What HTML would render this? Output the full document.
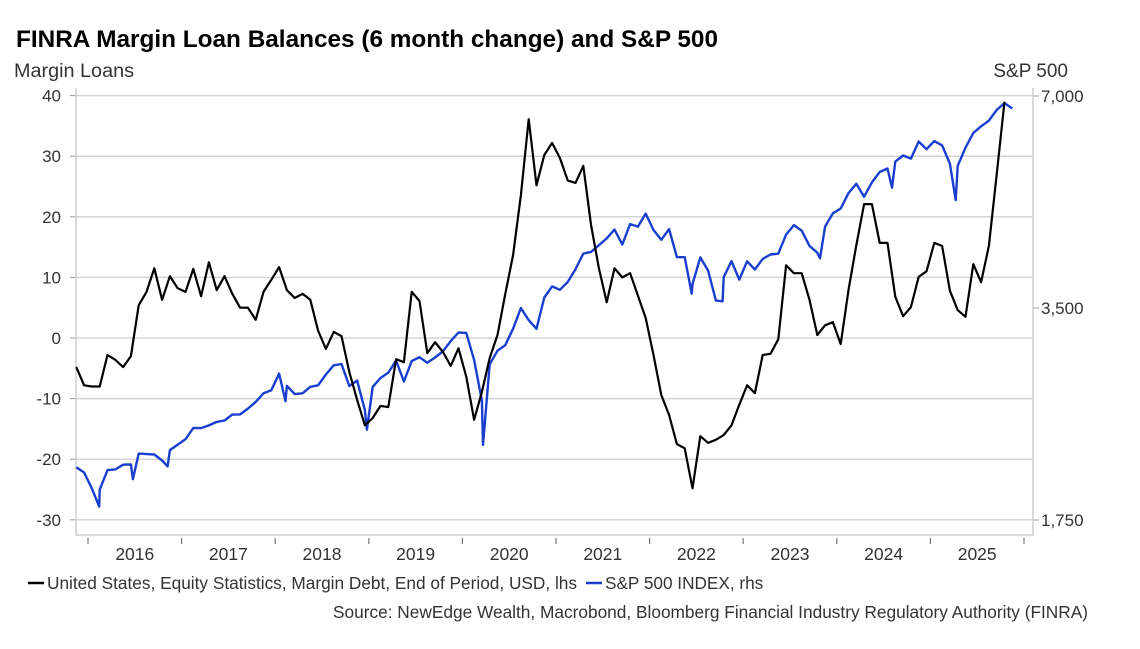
<!DOCTYPE html>
<html><head><meta charset="utf-8"><style>
body{margin:0;background:#fff;}
svg{display:block;font-family:"Liberation Sans",Arial,sans-serif;}
</style></head><body>
<svg id="chart" width="1140" height="649" viewBox="0 0 1140 649" xmlns="http://www.w3.org/2000/svg">
<text x="16" y="47" font-size="24" font-weight="bold" fill="#000" textLength="702" lengthAdjust="spacingAndGlyphs">FINRA Margin Loan Balances (6 month change) and S&amp;P 500</text>
<text x="14" y="77" font-size="19" fill="#333" textLength="120" lengthAdjust="spacingAndGlyphs">Margin Loans</text>
<text x="1068" y="77" font-size="19" fill="#333" text-anchor="end">S&amp;P 500</text>
<g id="grid"></g><g id="axes"></g><g id="series"></g>
<g>
<line x1="28" y1="583" x2="44" y2="583" stroke="#000" stroke-width="2.5"/>
<text x="47" y="589" font-size="17.2" fill="#333" textLength="530" lengthAdjust="spacingAndGlyphs">United States, Equity Statistics, Margin Debt, End of Period, USD, lhs</text>
<line x1="586" y1="583" x2="602" y2="583" stroke="#1a3fcf" stroke-width="2.5"/>
<text x="605" y="589" font-size="17.2" fill="#333">S&amp;P 500 INDEX, rhs</text>
</g>
<text x="1088" y="618" font-size="17.2" fill="#333" text-anchor="end" textLength="755" lengthAdjust="spacingAndGlyphs">Source: NewEdge Wealth, Macrobond, Bloomberg Financial Industry Regulatory Authority (FINRA)</text>
</svg>
<script>
const years=[2016,2017,2018,2019,2020,2021,2022,2023,2024,2025];
const leftTicks=[40,30,20,10,0,-10,-20,-30];
const rightTicks=[7000,3500,1750];
const rightTickLabels=["7,000","3,500","1,750"];
const marginStart=2015+10/12;
const marginValues=[-4.8,-7.8,-8,-8,-2.8,-3.6,-4.8,-3,5.4,7.6,11.5,6.3,10.2,8.2,7.6,11.4,6.9,12.5,7.9,10.2,7.3,5,5,3,7.6,9.6,11.7,7.9,6.6,7.3,6.3,1.2,-1.8,1,0.3,-5.6,-10.2,-14.4,-13.2,-11.2,-11.4,-3.5,-4,7.6,6.1,-2.5,-0.7,-2.3,-4.6,-1.7,-6.4,-13.5,-8.9,-3.3,0.5,7.3,13.7,23.6,36.1,25.2,30.2,32.2,29.7,26,25.6,28.4,18.6,11.5,5.9,11.5,10,10.7,7,3.3,-2.8,-9.4,-12.7,-17.5,-18.2,-24.8,-16.2,-17.3,-16.8,-16,-14.4,-11,-7.8,-9.1,-2.8,-2.6,-0.2,12,10.7,10.7,6.3,0.5,2.1,2.6,-1,7.9,15.3,22.1,22.1,15.7,15.7,6.8,3.6,5.1,10.1,11,15.7,15.2,7.8,4.6,3.5,12.2,9.2,15.2,27,39];
const spxStart=2015+10/12;
const spxMonthly=[2080,2044,1940,1932,2060,2065,2097,2099,2174,2171,2168,2126,2199,2239,
2279,2364,2363,2384,2412,2423,2470,2472,2519,2575,2648,2674,
2824,2714,2641,2648,2705,2718,2816,2902,2914,2712,2760,2507,
2704,2784,2834,2946,2752,2942,2980,2926,2977,3038,3141,3231,
3226,2954,2585,2912,3044,3100,3271,3500,3363,3270,3622,3756,
3714,3811,3973,4181,4204,4298,4395,4523,4308,4605,4567,4766,
4516,4374,4530,4132,4132,3785,4130,3955,3586,3872,4080,3840,
4077,3970,4109,4169,4180,4450,4589,4508,4288,4194,4568,4770,
4846,5096,5254,5036,5278,5460,5522,5648,5762,5705,6032,5882,
6041,5955,5612,5569,5912,6205,6339,6460,6688,6840,6720];
const spxDipDates=[2016.12,2016.48,2016.85,2018.11,2018.98,2020.22,2022.45,2022.78,2023.82,2024.59,2025.27];
const spxDipValues=[1829,2000,2085,2581,2351,2237,3667,3577,4117,5186,4983];

const NS="http://www.w3.org/2000/svg";
const X0=88,YW=93.6,PL=76,PR=1033,PB=535;
const x=t=>X0+YW*(t-2016);
const yL=v=>338-6.06*v;
const yR=v=>96+212*Math.log2(7000/v);
function mk(tag,attrs,parent){const e=document.createElementNS(NS,tag);for(const k in attrs)e.setAttribute(k,attrs[k]);parent.appendChild(e);return e;}
const grid=document.getElementById('grid'),axes=document.getElementById('axes'),series=document.getElementById('series');
leftTicks.forEach(v=>{
  const g=mk('line',{x1:PL,x2:PR,y1:yL(v),y2:yL(v),stroke:'#d4d4d4','stroke-width':1.5},grid);
  
  
  mk('line',{x1:PL-6,x2:PL,y1:yL(v),y2:yL(v),stroke:'#999','stroke-width':1},axes);
  const t=mk('text',{x:61,y:yL(v)+6,'font-size':17,fill:'#333','text-anchor':'end'},axes);
  t.textContent=v;
  
  
});
rightTicks.forEach((v,i)=>{
  mk('line',{x1:PR,x2:PR+6,y1:yR(v),y2:yR(v),stroke:'#999','stroke-width':1},axes);
  const t=mk('text',{x:1041,y:yR(v)+6,'font-size':17,fill:'#333'},axes);
  t.textContent=rightTickLabels[i];
  
  
});
mk('path',{d:`M${PL} 88V${PB}H${PR}V88`,fill:'none',stroke:'#cfcfcf','stroke-width':1.5},axes);
years.concat([2026]).forEach(yr=>{mk('line',{x1:x(yr),x2:x(yr),y1:PB+3,y2:PB+9,stroke:'#777','stroke-width':1.2},axes);});
years.forEach(yr=>{
  const t=mk('text',{x:x(yr+0.5),y:560,'font-size':17.5,fill:'#333','text-anchor':'middle'},axes);
  t.textContent=yr;
  
  
});
let pts=spxMonthly.map((v,i)=>[spxStart+(i+0.5)/12,v]);
spxDipDates.forEach((d,i)=>pts.push([d,spxDipValues[i]]));
pts.sort((a,b)=>a[0]-b[0]);
const sp=mk('path',{d:'M'+pts.map(p=>x(p[0]).toFixed(1)+','+yR(p[1]).toFixed(1)).join('L'),fill:'none',stroke:'#1a3fcf','stroke-width':2.4,'stroke-linejoin':'round'},series);


const ml=mk('path',{d:'M'+marginValues.map((v,i)=>x(marginStart+(i+0.5)/12).toFixed(1)+','+yL(v).toFixed(1)).join('L'),fill:'none',stroke:'#000','stroke-width':2.2,'stroke-linejoin':'round'},series);


</script>
</body></html>
